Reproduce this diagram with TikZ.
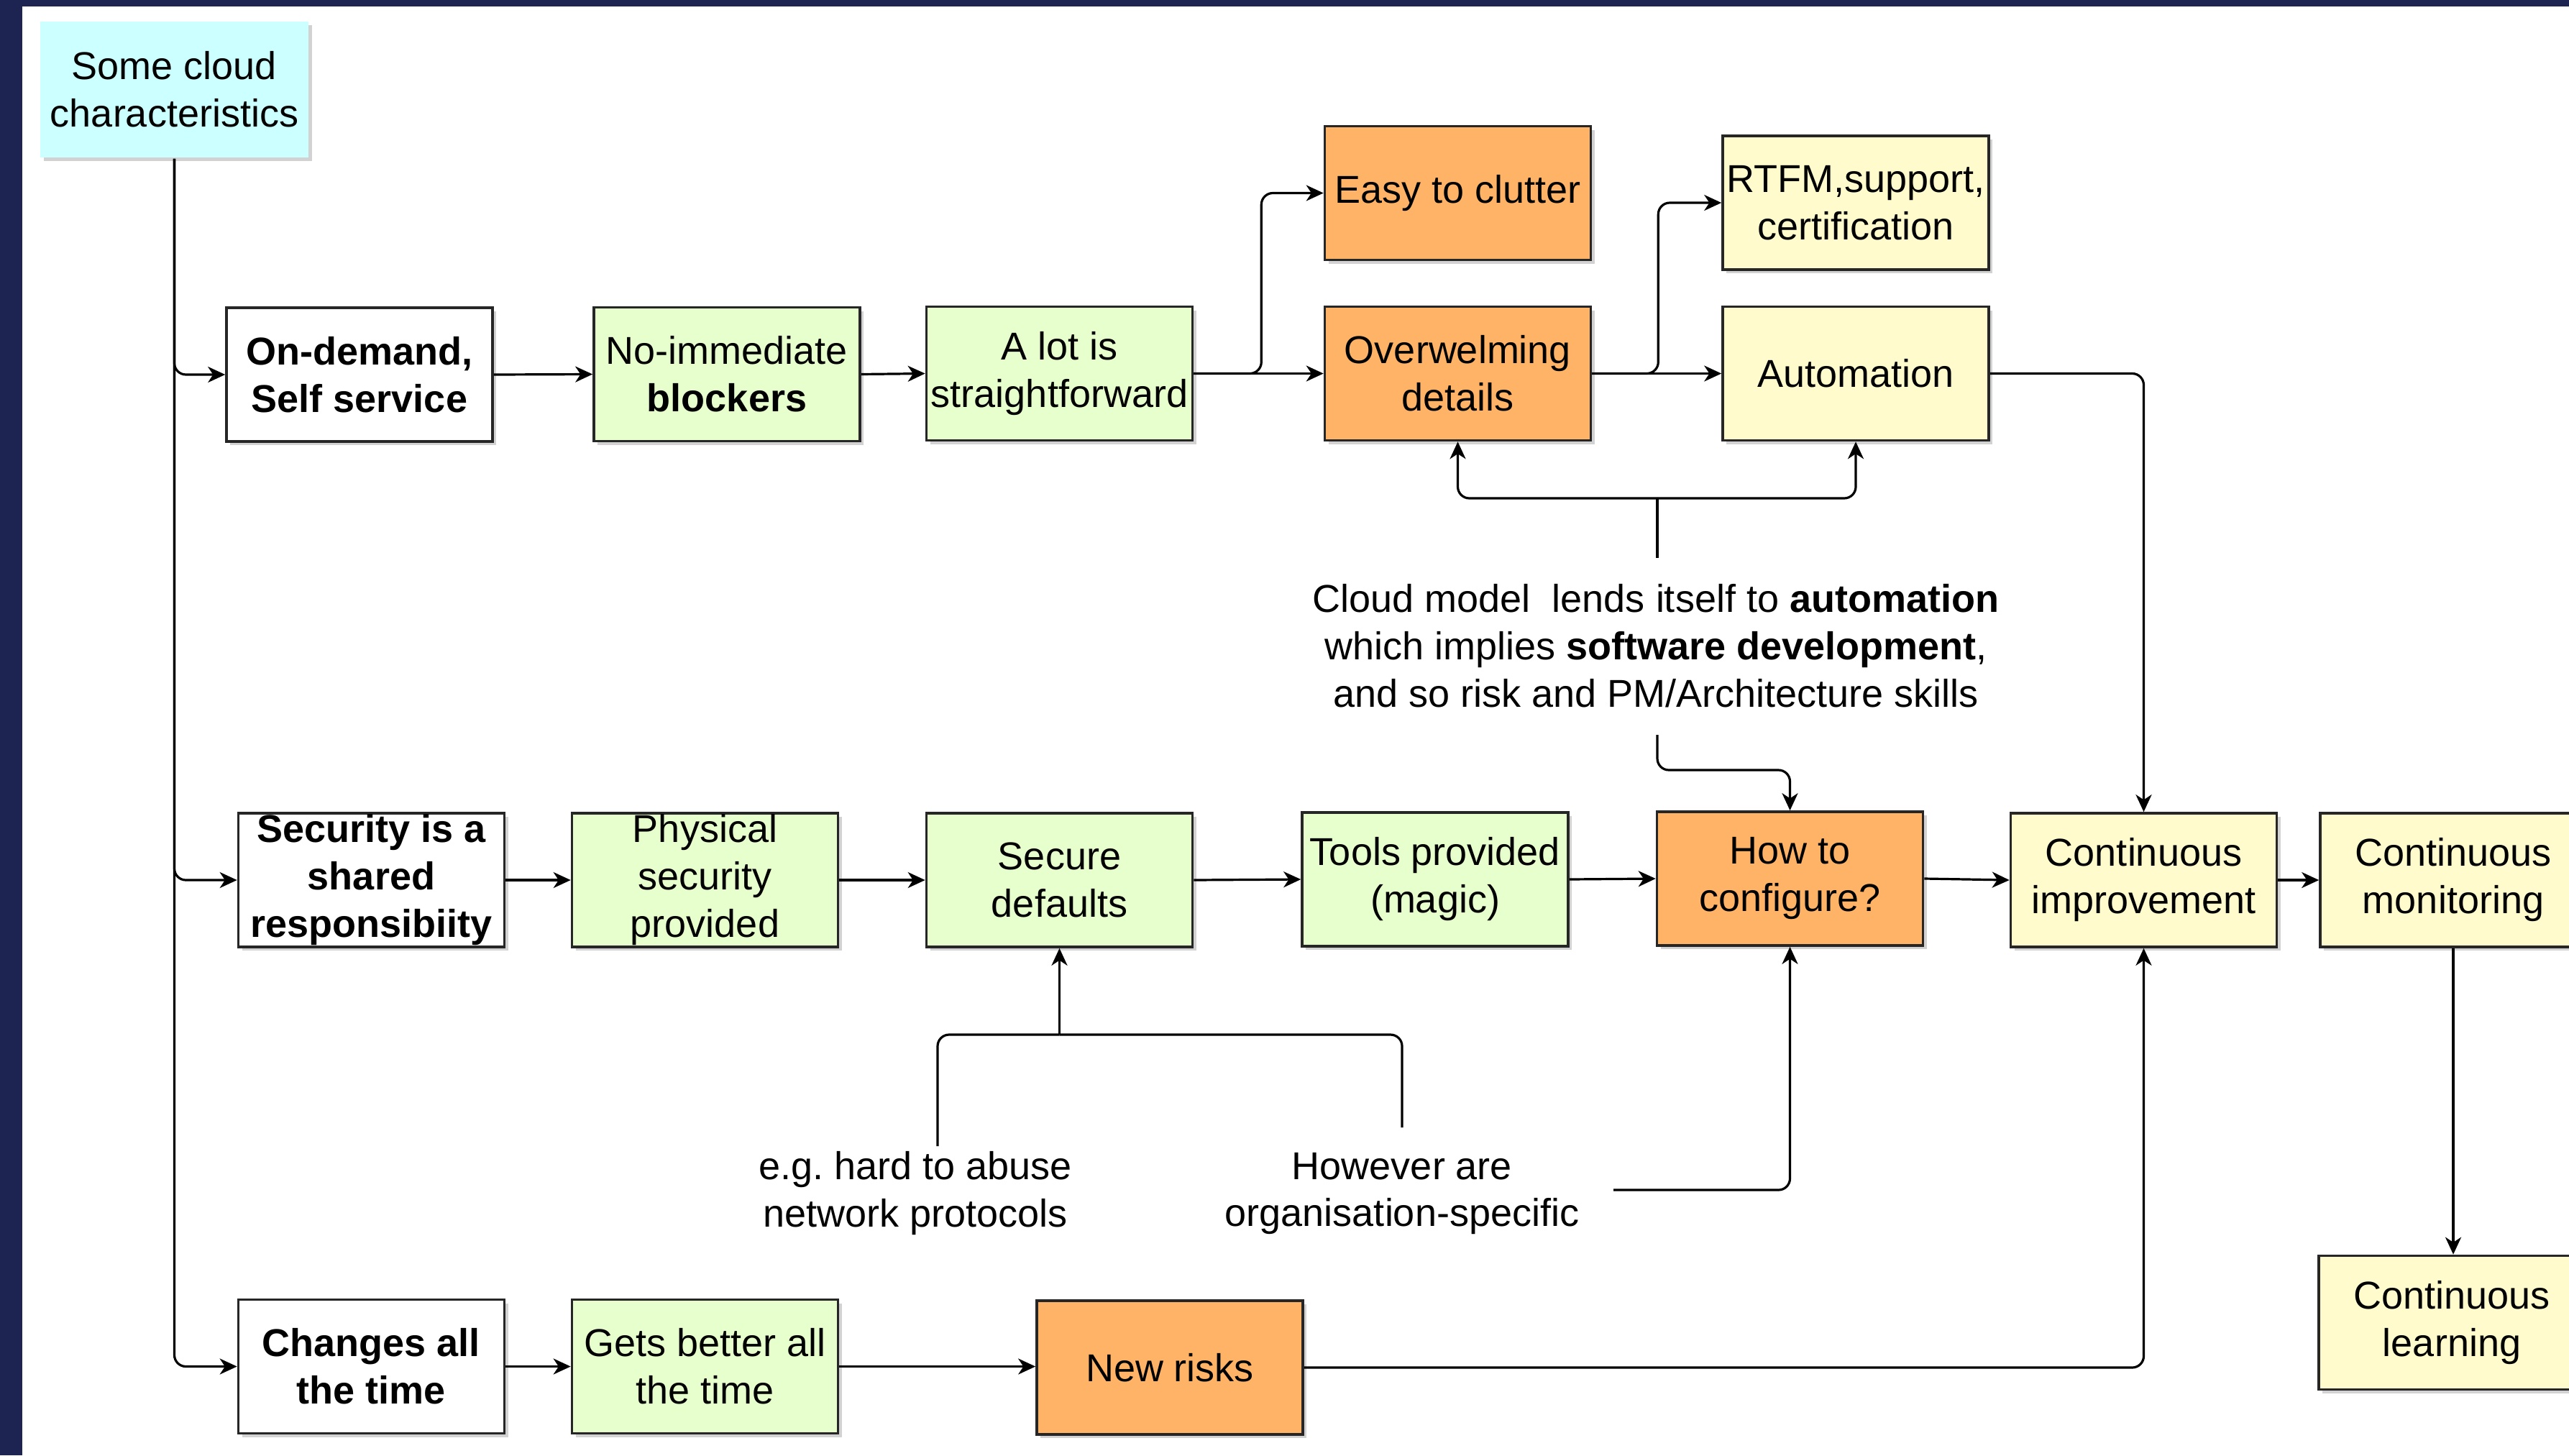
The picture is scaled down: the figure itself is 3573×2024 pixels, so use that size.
\documentclass[tikz,border=0pt]{standalone}
\usepackage{fontspec}
\setmainfont{Liberation Sans}
\usetikzlibrary{arrows.meta,shadows,calc}
\definecolor{navy}{HTML}{1D2452}
\definecolor{cgreen}{HTML}{E6FFCC}
\definecolor{corange}{HTML}{FFB366}
\definecolor{cyellow}{HTML}{FFFBCC}
\definecolor{ccyan}{HTML}{CCFFFF}
\frenchspacing
\begin{document}
\begin{tikzpicture}[x=0.25pt,y=-0.25pt,
  box/.style={draw=black!85, line width=0.9pt, minimum width=92.5pt, minimum height=46.5pt,
    inner sep=0pt, align=center, font=\fontsize{13.5}{16.5}\selectfont,
    drop shadow={shadow xshift=1.3pt,shadow yshift=-1.3pt,opacity=0.35}},
  wbox/.style={box, fill=white, font=\fontsize{13.5}{16.5}\selectfont\bfseries},
  gbox/.style={box, fill=cgreen},
  obox/.style={box, fill=corange},
  ybox/.style={box, fill=cyellow},
  cbox/.style={box, fill=ccyan, draw=none, minimum width=93.25pt, minimum height=47.25pt},
  note/.style={align=center, inner sep=0pt, font=\fontsize{13.5}{16.5}\selectfont},
  conn/.style={line width=0.8pt, rounded corners=4pt},
  arr/.style={conn, -{Stealth[length=6pt,width=5.5pt,inset=1.8pt]}}
]
\useasboundingbox (0,0) rectangle (3573,2024);
\clip (0,0) rectangle (3573,2024);
\fill[white] (0,0) rectangle (3573,2024);
\fill[navy] (0,0) rectangle (31,2024);
\fill[navy] (0,0) rectangle (3573,9);

% nodes
\node[cbox] (cloud) at (242.5,124.5) {Some cloud\\characteristics};

\node[wbox] (ondemand) at (500,521) {On-demand,\\Self service};
\node[gbox] (noimm) at (1011,520.5) {No-immediate\\\textbf{blockers}};
\node[gbox] (alot) at (1473.5,519.5) {A lot is\\straightforward};
\node[obox] (easy) at (2027.5,268.5) {Easy to clutter};
\node[obox] (overw) at (2027.5,519.5) {Overwelming\\details};
\node[ybox] (rtfm) at (2581,282) {RTFM,support,\\certification};
\node[ybox] (autom) at (2581,519.5) {Automation};

\node[wbox] (security) at (516.5,1224) {Security is a\\shared\\responsibiity};
\node[gbox] (physical) at (980.5,1224) {Physical\\security\\provided};
\node[gbox] (secure) at (1473.5,1224) {Secure\\defaults};
\node[gbox] (tools) at (1996,1223) {Tools provided\\(magic)};
\node[obox] (howto) at (2489.5,1222) {How to\\configure?};
\node[ybox] (contimp) at (2981.5,1224) {Continuous\\improvement};
\node[ybox] (contmon) at (3412,1224) {Continuous\\monitoring};
\node[ybox] (contlearn) at (3410,1839.5) {Continuous\\learning};

\node[wbox] (changes) at (516.5,1900.5) {Changes all\\the time};
\node[gbox] (getsbetter) at (980.5,1900.5) {Gets better all\\the time};
\node[obox] (newrisks) at (1627,1902) {New risks};

\node[note] (cloudtxt) at (2303,898) {Cloud model\ \ lends itself to \textbf{automation}\\which implies \textbf{software development},\\and so risk and PM/Architecture skills};
\node[note] (egtxt) at (1273,1660) {e.g. hard to abuse\\network protocols};
\node[note] (howevertxt) at (1950,1660) {However are\\organisation-specific};

% helper coordinates
\coordinate (ctop) at (2305,776);
\coordinate (cbr) at (2305,693);
\coordinate (cbot) at (2305,1022);
\coordinate (cturn) at (2305,1071);
\coordinate (egtop) at (1304,1594);
\coordinate (hwtop) at (1950,1568);
\coordinate (sj) at (1473.5,1439);
\coordinate (hwright) at (2244,1655);

% connectors from cloud
\draw[arr] (cloud.south) |- (ondemand.west);
\draw[arr] (cloud.south) |- (security.west);
\draw[arr] (cloud.south) |- (changes.west);

% top row
\draw[arr] (ondemand.east) -- (noimm.west);
\draw[arr] (noimm.east) -- (alot.west);
\draw[arr] (alot.east) -- (overw.west);
\draw[arr] (alot.east) -- ++(94,0) |- (easy.west);
\draw[arr] (overw.east) -- (autom.west);
\draw[arr] (overw.east) -- ++(92,0) |- (rtfm.west);
\draw[arr] (autom.east) -| (contimp.north);

% brace above text
\draw[conn] (ctop) -- (cbr);
\draw[arr] (cbr) -| (overw.south);
\draw[arr] (cbr) -| (autom.south);
\draw[arr] (cbot) -- (cturn) -| (howto.north);

% middle row
\draw[arr] (security.east) -- (physical.west);
\draw[arr] (physical.east) -- (secure.west);
\draw[arr] (secure.east) -- (tools.west);
\draw[arr] (tools.east) -- (howto.west);
\draw[arr] (howto.east) -- (contimp.west);
\draw[arr] (contimp.east) -- (contmon.west);
\draw[arr] (contmon.south) -- (contmon.south |- contlearn.north);

% secure defaults brace
\draw[conn] (egtop) |- (sj);
\draw[conn] (hwtop) |- (sj);
\draw[arr] (sj) -- (secure.south);
\draw[arr] (hwright) -| (howto.south);

% bottom row
\draw[arr] (changes.east) -- (getsbetter.west);
\draw[arr] (getsbetter.east) -- (getsbetter.east -| newrisks.west);
\draw[arr] (newrisks.east) -| (contimp.south);
\end{tikzpicture}
\end{document}
